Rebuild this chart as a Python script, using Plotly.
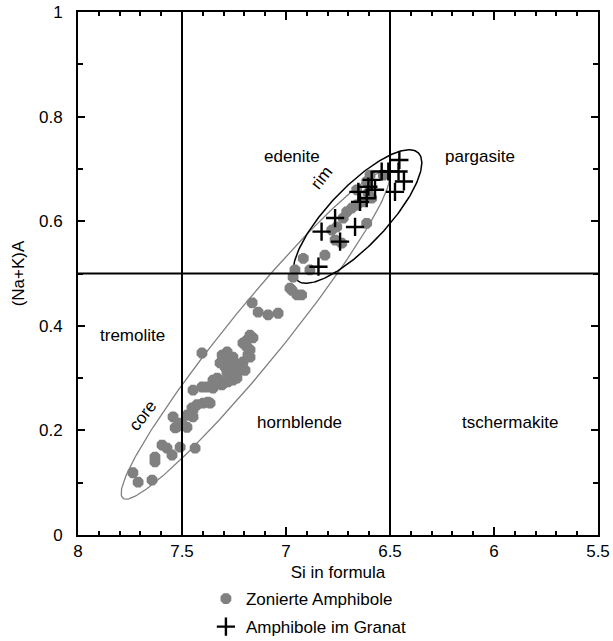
import numpy as np
import plotly.graph_objects as go

# Zonierte Amphibole (gray)
zon_si = [7.736, 7.711, 7.644, 7.630, 7.630, 7.596, 7.572, 7.548, 7.509, 7.437,
          7.543, 7.509, 7.533, 7.476, 7.447, 7.452, 7.428, 7.399, 7.365,
          7.447, 7.404, 7.380, 7.351, 7.331, 7.317, 7.303, 7.351,
          7.317, 7.293, 7.221, 7.197, 7.307, 7.283, 7.255, 7.269, 7.404,
          7.173, 7.187, 7.159, 7.207, 7.187, 7.183,
          7.163, 7.134, 7.086, 7.038, 6.971, 6.947,
          7.279, 7.269, 7.245, 7.284, 7.236, 7.207, 7.173, 7.173, 7.308, 7.279,
          7.255, 7.236, 7.351, 7.375, 7.447, 7.476, 7.524, 7.495,
          6.612, 6.725, 6.756, 6.780, 6.708, 6.684, 6.660, 6.588, 6.660, 6.596,
          6.532, 6.732, 6.764, 6.813, 6.917, 6.885, 6.957, 6.966, 6.981, 6.925,
          6.630, 6.612, 6.606]
zon_na = [0.119, 0.101, 0.105, 0.149, 0.140, 0.172, 0.166, 0.153, 0.168, 0.166,
          0.226, 0.214, 0.205, 0.206, 0.226, 0.243, 0.249, 0.252, 0.252,
          0.277, 0.283, 0.283, 0.283, 0.300, 0.296, 0.291, 0.296,
          0.329, 0.321, 0.321, 0.315, 0.344, 0.350, 0.340, 0.331, 0.348,
          0.382, 0.373, 0.377, 0.367, 0.359, 0.344,
          0.444, 0.426, 0.421, 0.424, 0.468, 0.459,
          0.335, 0.321, 0.325, 0.312, 0.310, 0.331, 0.354, 0.340, 0.287, 0.293,
          0.296, 0.300, 0.281, 0.254, 0.239, 0.229, 0.207, 0.210,
          0.596, 0.606, 0.589, 0.583, 0.618, 0.625, 0.631, 0.644, 0.660, 0.688,
          0.688, 0.558, 0.564, 0.535, 0.529, 0.507, 0.507, 0.493, 0.472, 0.459,
          0.637, 0.676, 0.654]

# Amphibole im Granat (black crosses)
gra_si = [6.455, 6.459, 6.433, 6.476, 6.508, 6.540, 6.588, 6.604, 6.572, 6.652,
          6.612, 6.644, 6.764, 6.668, 6.829, 6.740, 6.844]
gra_na = [0.717, 0.695, 0.676, 0.656, 0.695, 0.695, 0.679, 0.666, 0.660, 0.656,
          0.644, 0.637, 0.606, 0.589, 0.580, 0.561, 0.513]

# field boundaries
si_bounds = [7.5, 6.5]
na_bound = 0.5

# field labels
field_names = ["edenite", "pargasite", "tremolite", "hornblende", "tschermakite"]
field_si = [6.971, 6.067, 7.736, 6.933, 5.923]
field_na = [0.723, 0.723, 0.382, 0.216, 0.216]

# scale (pixels per unit) used to draw the ellipses in screen proportion
PX_X = 208.0
PX_Y = 523.0


def ellipse(cx, cy, a_px, b_px, ux, uy, n=200):
    t = np.linspace(0, 2 * np.pi, n)
    nx, ny = uy, -ux
    dx = a_px * np.cos(t) * ux + b_px * np.sin(t) * nx
    dy = a_px * np.cos(t) * uy + b_px * np.sin(t) * ny
    return cx - dx / PX_X, cy - dy / PX_Y


FS = 17

fig = go.Figure()

ex, ey = ellipse(7.147, 0.382, 210, 28, 0.631, -0.776)
fig.add_trace(go.Scatter(x=ex, y=ey, mode="lines", line=dict(color="#808080", width=1.3),
                         showlegend=False, hoverinfo="skip"))
ex, ey = ellipse(6.656, 0.609, 88, 29, 0.690, -0.724)
fig.add_trace(go.Scatter(x=ex, y=ey, mode="lines", line=dict(color="black", width=1.5),
                         showlegend=False, hoverinfo="skip"))

fig.add_trace(go.Scatter(x=zon_si, y=zon_na, mode="markers", name="Zonierte Amphibole",
                         legendgroup="a",
                         marker=dict(symbol="asterisk-open", size=9, color="#808080",
                                     line=dict(color="#808080", width=4.5))))
fig.add_trace(go.Scatter(x=gra_si, y=gra_na, mode="markers", name="Amphibole im Granat",
                         legendgroup="b",
                         marker=dict(symbol="cross-thin-open", size=13, color="black",
                                     line=dict(color="black", width=2.4))))

for s in si_bounds:
    fig.add_shape(type="line", x0=s, x1=s, y0=0, y1=1, xref="x", yref="y",
                  line=dict(color="black", width=2), layer="above")
fig.add_shape(type="line", x0=8, x1=5.5, y0=na_bound, y1=na_bound, xref="x", yref="y",
              line=dict(color="black", width=2), layer="above")

for name, sx, sy in zip(field_names, field_si, field_na):
    fig.add_annotation(x=sx, y=sy, text=name, showarrow=False,
                       font=dict(size=FS, color="black"))
fig.add_annotation(x=7.688, y=0.229, text="core", showarrow=False, textangle=-52,
                   font=dict(size=FS, color="black"))
fig.add_annotation(x=6.827, y=0.683, text="rim", showarrow=False, textangle=-52,
                   font=dict(size=FS, color="black"))

axis_common = dict(showline=True, linecolor="black", linewidth=2, mirror="ticks",
                   ticks="inside", tickcolor="black", tickwidth=2, showgrid=False,
                   zeroline=False, automargin=False,
                   tickfont=dict(size=FS, color="black"))

fig.update_layout(
    width=613, height=641,
    margin=dict(l=78, r=15, t=12, b=106, autoexpand=False),
    paper_bgcolor="white", plot_bgcolor="white",
    font=dict(family="Liberation Sans, Arial, sans-serif", size=FS, color="black"),
    xaxis=dict(range=[8, 5.5], dtick=0.5, tick0=0, ticklen=8,
               minor=dict(dtick=0.1, ticklen=4, ticks="inside", tickcolor="black", tickwidth=2),
               title=dict(text="Si in formula", standoff=6, font=dict(size=FS)),
               **axis_common),
    yaxis=dict(range=[0, 1], dtick=0.2, tick0=0, ticklen=7, ticklabelstandoff=10,
               minor=dict(dtick=0.1, ticklen=5, ticks="inside", tickcolor="black", tickwidth=2),
               title=dict(text="(Na+K)A", standoff=10, font=dict(size=FS)),
               **axis_common),
    legend=dict(x=0.246, y=-0.088, xanchor="left", yanchor="top", bgcolor="rgba(0,0,0,0)",
                font=dict(size=FS, color="black"), tracegroupgap=3, traceorder="grouped"),
    showlegend=True,
)

fig.write_html("out.html")
